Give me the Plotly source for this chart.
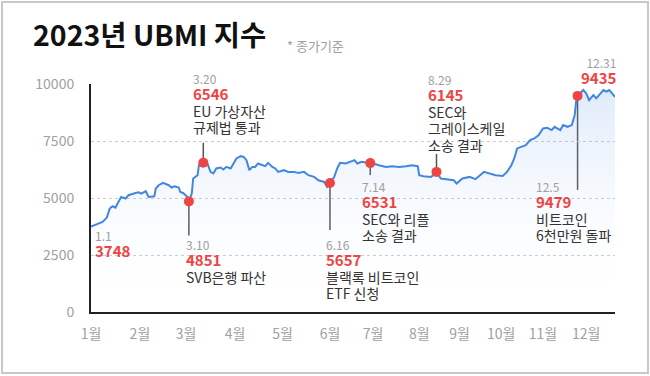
import pandas as pd
import plotly.graph_objects as go

YEAR = "2023"

# ---- data ----
dates = [
    "01-01", "01-06", "01-09", "01-12", "01-14", "01-16", "01-18", "01-20", "01-22", "01-25",
    "01-27", "02-01", "02-03", "02-05", "02-08", "02-10", "02-12", "02-14", "02-15", "02-17",
    "02-20", "02-22", "02-24", "02-26", "02-28", "03-03", "03-04", "03-06", "03-09", "03-10",
    "03-12", "03-13", "03-16", "03-17", "03-19", "03-20", "03-22", "03-25", "03-27", "03-29",
    "04-01", "04-03", "04-05", "04-08", "04-10", "04-12", "04-15", "04-17", "04-19", "04-21",
    "04-23", "04-25", "04-27", "04-30", "05-02", "05-04", "05-07", "05-09", "05-11", "05-15",
    "05-18", "05-22", "05-25", "05-29", "06-01", "06-05", "06-08", "06-12", "06-14", "06-16",
    "06-19", "06-21", "06-23", "06-27", "06-30", "07-03", "07-05", "07-08", "07-11", "07-14",
    "07-16", "07-20", "07-25", "07-29", "08-03", "08-08", "08-12", "08-16", "08-17", "08-20",
    "08-25", "08-27", "08-29", "09-01", "09-06", "09-10", "09-12", "09-16", "09-21", "09-25",
    "10-01", "10-05", "10-09", "10-14", "10-17", "10-20", "10-22", "10-24", "10-27", "10-30",
    "11-02", "11-05", "11-08", "11-11", "11-14", "11-17", "11-19", "11-23", "11-25", "11-28",
    "12-01", "12-03", "12-04", "12-05", "12-09", "12-11", "12-13", "12-16", "12-18", "12-21",
    "12-23", "12-25", "12-27", "12-30", "12-31",
]
values = [
    3748, 3877, 3947, 4141, 4536, 4637, 4580, 4826, 5046, 4976,
    5121, 5222, 5253, 5196, 5297, 5046, 5046, 5077, 5415, 5560,
    5662, 5604, 5560, 5459, 5516, 5459, 5266, 5222, 5046, 4851,
    5196, 5855, 6000, 6440, 6520, 6546, 6659, 6145, 6075, 6295,
    6338, 6251, 6365, 6295, 6514, 6734, 6835, 6804, 6659, 6220,
    6365, 6365, 6514, 6440, 6396, 6541, 6365, 6295, 6145, 6220,
    6145, 6145, 6101, 6145, 6000, 5925, 5780, 5705, 5486, 5657,
    5925, 6295, 6541, 6514, 6585, 6659, 6514, 6585, 6560, 6531,
    6514, 6440, 6365, 6396, 6365, 6396, 6440, 6396, 6000, 5956,
    5925, 6000, 6145, 5855, 5811, 5780, 5635, 5855, 5925, 5824,
    6145, 6075, 6000, 5969, 6145, 6440, 6734, 7174, 7244, 7319,
    7538, 7613, 7758, 8053, 8079, 7978, 8123, 7978, 8198, 8123,
    8198, 8637, 9222, 9479, 9736, 9591, 9297, 9516, 9371, 9591,
    9736, 9662, 9736, 9516, 9435,
]

ev_dates = ["01-01", "03-10", "03-20", "06-16", "07-14", "08-29", "12-05", "12-31"]
ev_values = [3748, 4851, 6546, 5657, 6531, 6145, 9479, 9435]
ev_date_labels = ["1.1", "3.10", "3.20", "6.16", "7.14", "8.29", "12.5", "12.31"]
ev_descs = [
    [],
    ["SVB은행 파산"],
    ["EU 가상자산", "규제법 통과"],
    ["블랙록 비트코인", "ETF 신청"],
    ["SEC와 리플", "소송 결과"],
    ["SEC와", "그레이스케일", "소송 결과"],
    ["비트코인", "6천만원 돌파"],
    [],
]
ev_has_dot = [False, True, True, True, True, True, True, False]

month_labels = ["1월", "2월", "3월", "4월", "5월", "6월", "7월", "8월", "9월", "10월", "11월", "12월"]
month_label_dates = ["01-01", "02-04", "03-08", "04-11", "05-14", "06-16",
                     "07-16", "08-17", "09-14", "10-13", "11-11", "12-11"]
y_ticks = [0, 2500, 5000, 7500, 10000]
y_tick_labels = ["0", "2500", "5000", "7500", "10000"]

title_text = "2023년 UBMI 지수"
note_text = "* 종가기준"

# ---- styles / placement (pixels) ----
FONT = "Noto Sans CJK KR"
BLUE = "#4286e3"
RED = "#ee4444"
GRAY = "#a0a0a0"
DARK = "#333333"

# per event: x offset of text left edge, y offset (down) of the first text line centre,
# stem (pixel extent, + up), text anchor
ev_style = [
    dict(dx=3, dy=8, stem=None, anchor="left"),
    dict(dx=-4, dy=43, stem=-34, anchor="left"),
    dict(dx=-11, dy=-85, stem=20, anchor="left"),
    dict(dx=-5, dy=61, stem=-47, anchor="left"),
    dict(dx=-9, dy=23, stem=-12, anchor="left"),
    dict(dx=-9, dy=-93, stem=18, anchor="left"),
    dict(dx=-43, dy=90, stem=-94, anchor="left"),
    dict(dx=3, dy=-35, stem=None, anchor="right"),
]

x = pd.to_datetime([f"{YEAR}-{d}" for d in dates])
ex = pd.to_datetime([f"{YEAR}-{d}" for d in ev_dates])
mx = pd.to_datetime([f"{YEAR}-{d}" for d in month_label_dates])

fig = go.Figure()

fig.add_trace(go.Scatter(
    x=x, y=values, mode="lines",
    line=dict(color=BLUE, width=2),
    fill="tozeroy",
    fillgradient=dict(
        type="vertical",
        colorscale=[[0, "rgba(255,255,255,0)"], [1, "rgba(66,134,227,0.17)"]],
        start=0, stop=9800,
    ),
    hoverinfo="skip",
))

dot_x = [ex[i] for i in range(len(ex)) if ev_has_dot[i]]
dot_y = [ev_values[i] for i in range(len(ex)) if ev_has_dot[i]]
fig.add_trace(go.Scatter(
    x=dot_x, y=dot_y, mode="markers",
    marker=dict(color=RED, size=10, line=dict(width=0)),
    hoverinfo="skip",
))

shapes = []
annotations = []
for i in range(len(ex)):
    st = ev_style[i]
    if st["stem"] is not None:
        shapes.append(dict(
            type="line", xref="x", yref="y", ysizemode="pixel",
            yanchor=ev_values[i], x0=ex[i], x1=ex[i], y0=0, y1=st["stem"],
            line=dict(color="#555555", width=1.5), layer="below",
        ))
    parts = [f'<span style="font-size:12px;color:{GRAY}">{ev_date_labels[i]}</span>',
             f'<span style="font-size:15px;color:{RED}"><b>{ev_values[i]}</b></span>']
    for d in ev_descs[i]:
        parts.append(f'<span style="font-size:14px;color:{DARK}">{d}</span>')
    annotations.append(dict(
        x=ex[i], y=ev_values[i], xref="x", yref="y", text="<br>".join(parts),
        font=dict(family=FONT, size=12.6, color=DARK),
        showarrow=False, xanchor=st["anchor"], yanchor="top", align=st["anchor"],
        xshift=st["dx"], yshift=-(st["dy"] - 9), borderpad=0,
    ))

# note next to title
annotations.append(dict(
    x=(285 - 91) / 524, y=(312 - 45) / 228, xref="paper", yref="paper",
    text=note_text, showarrow=False, xanchor="left", yanchor="middle",
    font=dict(family=FONT, size=13, color=GRAY),
))

# outer frame
shapes.append(dict(
    type="rect", xref="paper", yref="paper",
    x0=(2 - 91) / 524, x1=(648 - 91) / 524,
    y0=(312 - 373) / 228, y1=(312 - 2) / 228,
    line=dict(color="#c8c8c8", width=2), fillcolor="rgba(0,0,0,0)", layer="below",
))

fig.update_layout(
    width=650, height=376,
    margin=dict(l=91, r=35, t=84, b=64),
    paper_bgcolor="white", plot_bgcolor="white",
    showlegend=False,
    font=dict(family=FONT),
    title=dict(
        text=f"<b>{title_text}</b>", xref="container", yref="container",
        x=33 / 650, y=1 - 36 / 376, xanchor="left", yanchor="middle",
        font=dict(family=FONT, size=28.5, color="#111111"),
    ),
    shapes=shapes,
    annotations=annotations,
)

fig.update_xaxes(
    type="date",
    range=[f"{YEAR}-01-01", f"{YEAR}-12-31"],
    tickmode="array", tickvals=mx, ticktext=month_labels,
    showgrid=False, zeroline=False,
    showline=True, linecolor="#222222", linewidth=2,
    ticks="", ticklabelstandoff=8,
    tickfont=dict(family=FONT, size=14, color=GRAY),
)
fig.update_yaxes(
    range=[0, 10000],
    tickmode="array", tickvals=y_ticks, ticktext=y_tick_labels,
    showgrid=True, gridcolor="#cccccc", griddash="dot", gridwidth=1,
    zeroline=False,
    showline=True, linecolor="#222222", linewidth=2,
    ticks="", ticklabelstandoff=12,
    tickfont=dict(family=FONT, size=14, color=GRAY),
)

fig.write_html(
    "out.html",
    config={"displayModeBar": False},
    post_script="document.body.style.margin='0';",
)
